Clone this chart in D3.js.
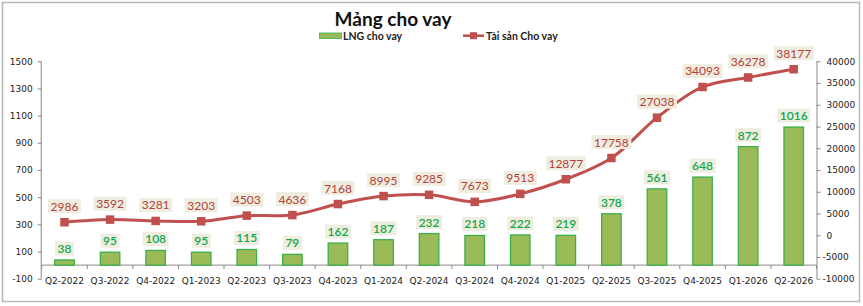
<!DOCTYPE html>
<html><head><meta charset="utf-8">
<script src="https://cdn.jsdelivr.net/npm/d3@7"></script>
<style>
body{margin:0;background:#fff;}
svg{display:block;}
</style></head>
<body>
<svg id="chart" width="863" height="306"></svg>
<script>
const categories = ["Q2-2022","Q3-2022","Q4-2022","Q1-2023","Q2-2023","Q3-2023","Q4-2023","Q1-2024","Q2-2024","Q3-2024","Q4-2024","Q1-2025","Q2-2025","Q3-2025","Q4-2025","Q1-2026","Q2-2026"];
const lngValues = [38,95,108,95,115,79,162,187,232,218,222,219,378,561,648,872,1016];
const assetValues = [2986,3592,3281,3203,4503,4636,7168,8995,9285,7673,9513,12877,17758,27038,34093,36278,38177];
const leftTicks = [-100,100,300,500,700,900,1100,1300,1500];
const rightTicks = [-10000,-5000,0,5000,10000,15000,20000,25000,30000,35000,40000];
const title = "Mảng cho vay";
const seriesNames = ["LNG cho vay","Tài sản Cho vay"];

const svg = d3.select("#chart");
const pLeft = 41.7, pRight = 816.5, pTop = 61.3, pBottom = 278.7;
const axisColor = "#8a8a8a";
const red = "#C0504D", barFill = "#9BBB59", barStroke = "#3BAF4A", green = "#13A84A", labelBg = "#EEEDE0";

// outer border
svg.append("rect").attr("x",2.5).attr("y",2.5).attr("width",857).attr("height",299)
  .attr("fill","#fff").attr("stroke","#b8b8b8").attr("stroke-width",1.5);

const x = d3.scaleBand().domain(categories).range([pLeft,pRight]).paddingInner(0).paddingOuter(0);
const yL = d3.scaleLinear().domain([-100,1500]).range([pBottom,pTop]);
const yR = d3.scaleLinear().domain([-10000,40000]).range([pBottom,pTop]);

const axFont = "'DejaVu Sans', sans-serif";
const axSize = "9px";

// left axis
const gL = svg.append("g").attr("transform",`translate(${pLeft},0)`)
  .call(d3.axisLeft(yL).tickValues(leftTicks).tickSize(4).tickPadding(5).tickFormat(d=>String(d)));
gL.selectAll("path,line").attr("stroke",axisColor);
gL.select(".domain").attr("d",`M-0.5,${pBottom}V${pTop}`);
gL.selectAll("text").attr("font-family",axFont).attr("font-size",axSize).attr("fill","#222");

// right axis
const gR = svg.append("g").attr("transform",`translate(${pRight},0)`)
  .call(d3.axisRight(yR).tickValues(rightTicks).tickSize(4).tickPadding(6).tickFormat(d=>String(d)));
gR.selectAll("path,line").attr("stroke",axisColor);
gR.select(".domain").attr("d",`M0.5,${pBottom}V${pTop}`);
gR.selectAll("text").attr("font-family",axFont).attr("font-size",axSize).attr("fill","#222")
  .attr("x",d=>d<0?6:10);

// x axis at zero
const y0 = yL(0);
const gX = svg.append("g").attr("transform",`translate(0,${y0})`);
gX.append("line").attr("x1",pLeft).attr("x2",pRight).attr("y1",0).attr("y2",0).attr("stroke",axisColor);
const bounds = categories.map(c=>x(c)).concat([pRight]);
gX.selectAll("line.tk").data(bounds).join("line").attr("class","tk")
  .attr("x1",d=>d).attr("x2",d=>d).attr("y1",0).attr("y2",4).attr("stroke",axisColor);
gX.selectAll("text").data(categories).join("text")
  .attr("x",d=>x(d)+x.bandwidth()/2).attr("y",18.5)
  .attr("text-anchor","middle").attr("font-family",axFont).attr("font-size",axSize).attr("fill","#222")
  .text(d=>d);

// bars
const bw = 19.5;
svg.append("g").selectAll("rect").data(lngValues).join("rect")
  .attr("x",(d,i)=>x(categories[i])+x.bandwidth()/2-bw/2)
  .attr("y",d=>yL(d)).attr("width",bw).attr("height",d=>yL(0)-yL(d))
  .attr("fill",barFill).attr("stroke",barStroke).attr("stroke-width",1.3);

// line
const line = d3.line().x((d,i)=>x(categories[i])+x.bandwidth()/2).y(d=>yR(d)).curve(d3.curveCatmullRom.alpha(0.5));
svg.append("path").datum(assetValues).attr("d",line).attr("fill","none").attr("stroke",red).attr("stroke-width",3);
const ms = 8.5;
svg.append("g").selectAll("rect").data(assetValues).join("rect")
  .attr("x",(d,i)=>x(categories[i])+x.bandwidth()/2-ms/2).attr("y",d=>yR(d)-ms/2)
  .attr("width",ms).attr("height",ms).attr("fill",red);

const lblFont = "Lato, 'Open Sans', sans-serif";
function addLabel(g, cx, cy, txt, color, weight){
  const t = g.append("text").attr("x",cx).attr("y",cy).attr("text-anchor","middle").attr("dominant-baseline","central")
    .attr("font-family",lblFont).attr("font-size","12px").attr("font-weight",weight).attr("fill",color).text(txt);
  const bb = t.node().getBBox();
  g.insert("rect","text").attr("x",bb.x-2.5).attr("y",cy-7).attr("width",bb.width+5).attr("height",14).attr("fill",labelBg);
}
// bar labels
lngValues.forEach((v,i)=>{
  const g = svg.append("g");
  addLabel(g, x(categories[i])+x.bandwidth()/2, yL(v)-11.5, String(v), green, 600);
});
assetValues.forEach((v,i)=>{
  const g = svg.append("g");
  addLabel(g, x(categories[i])+x.bandwidth()/2, yR(v)-16, String(v), "#B53F3A", 400);
});

// title
svg.append("text").attr("x",393).attr("y",26).attr("text-anchor","middle")
  .attr("font-family",lblFont).attr("font-weight",700).attr("font-size","19px").attr("fill","#111").text(title);

// legend
const lg = svg.append("g").attr("font-family",lblFont).attr("font-size","10.5px").attr("font-weight",700).attr("fill","#222");
lg.append("rect").attr("x",319.5).attr("y",33).attr("width",22).attr("height",5.5).attr("fill",barFill).attr("stroke",barStroke).attr("stroke-width",0.8);
lg.append("text").attr("x",343).attr("y",36).attr("dominant-baseline","central").text(seriesNames[0]);
lg.append("line").attr("x1",463).attr("x2",484).attr("y1",35.7).attr("y2",35.7).attr("stroke",red).attr("stroke-width",2.5);
lg.append("rect").attr("x",470).attr("y",32.2).attr("width",7).attr("height",7).attr("fill",red);
lg.append("text").attr("x",486).attr("y",36).attr("dominant-baseline","central").text(seriesNames[1]);
</script>
</body></html>
